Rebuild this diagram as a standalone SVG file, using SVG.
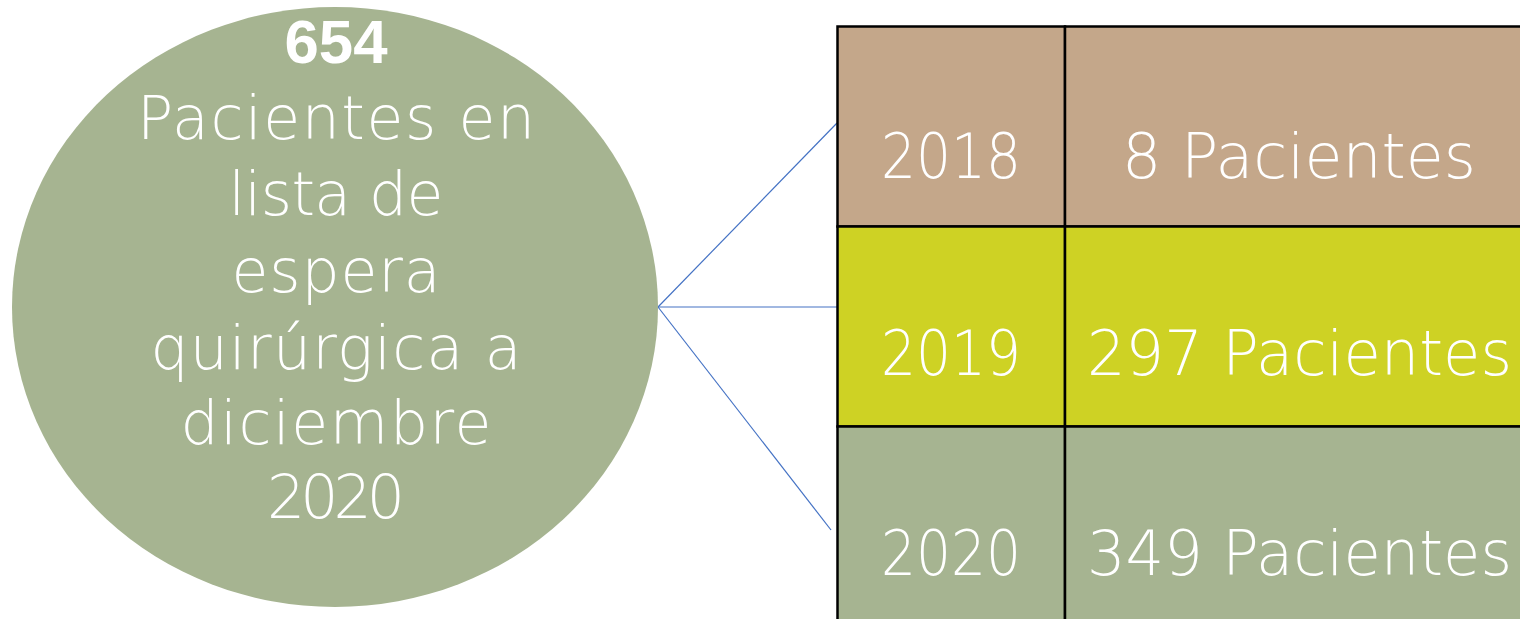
<svg xmlns="http://www.w3.org/2000/svg" width="1520" height="619" viewBox="0 0 1520 619">
<style>
.t{font-family:"Liberation Sans",Arial,sans-serif;fill:#ffffff;text-anchor:middle}
.e{font-family:"DejaVu Sans","Liberation Sans",sans-serif;font-size:60px;font-weight:200}
.c{font-family:"DejaVu Sans","Liberation Sans",sans-serif;font-size:63px;font-weight:200}
.conn{stroke:#4472C4;stroke-width:1.2;fill:none}
.cell{stroke:#000000;stroke-width:2.5}
</style>
<rect width="1520" height="619" fill="#ffffff"/>
<g id="connectors">
<line class="conn" x1="658" y1="307" x2="837" y2="123"/>
<line class="conn" x1="658" y1="307" x2="837" y2="307"/>
<line class="conn" x1="658" y1="307" x2="831" y2="530"/>
</g>
<g id="node-circle">
<ellipse cx="335" cy="307" rx="323" ry="300" fill="#A6B491"/>
<text class="t" x="336" y="63" font-size="62" font-weight="bold" textLength="103" lengthAdjust="spacingAndGlyphs">654</text>
<text class="t e" x="336" y="139" textLength="398" lengthAdjust="spacing">Pacientes en</text>
<text class="t e" x="336" y="215" textLength="215" lengthAdjust="spacing">lista de</text>
<text class="t e" x="336" y="292" textLength="209" lengthAdjust="spacing">espera</text>
<text class="t e" x="336" y="369" textLength="371" lengthAdjust="spacing">quirúrgica a</text>
<text class="t e" x="336" y="444" textLength="311" lengthAdjust="spacing">diciembre</text>
<text class="t e" x="336" y="518" textLength="138" lengthAdjust="spacing">2020</text>
</g>
<g id="row-2018">
<rect class="cell" x="837.5" y="26.5" width="227.5" height="200" fill="#C4A78A"/>
<rect class="cell" x="1065" y="26.5" width="480" height="200" fill="#C4A78A"/>
<text class="t c" x="951" y="178" textLength="140" lengthAdjust="spacingAndGlyphs">2018</text>
<text class="t c" x="1299" y="178" textLength="354" lengthAdjust="spacingAndGlyphs">8 Pacientes</text>
</g>
<g id="row-2019">
<rect class="cell" x="837.5" y="226.5" width="227.5" height="200" fill="#CED224"/>
<rect class="cell" x="1065" y="226.5" width="480" height="200" fill="#CED224"/>
<text class="t c" x="951" y="375" textLength="140" lengthAdjust="spacingAndGlyphs">2019</text>
<text class="t c" x="1299.5" y="375" textLength="425" lengthAdjust="spacingAndGlyphs">297 Pacientes</text>
</g>
<g id="row-2020">
<rect class="cell" x="837.5" y="426.5" width="227.5" height="220" fill="#A6B491"/>
<rect class="cell" x="1065" y="426.5" width="480" height="220" fill="#A6B491"/>
<text class="t c" x="951" y="575" textLength="140" lengthAdjust="spacingAndGlyphs">2020</text>
<text class="t c" x="1299.5" y="575" textLength="425" lengthAdjust="spacingAndGlyphs">349 Pacientes</text>
</g>
</svg>
